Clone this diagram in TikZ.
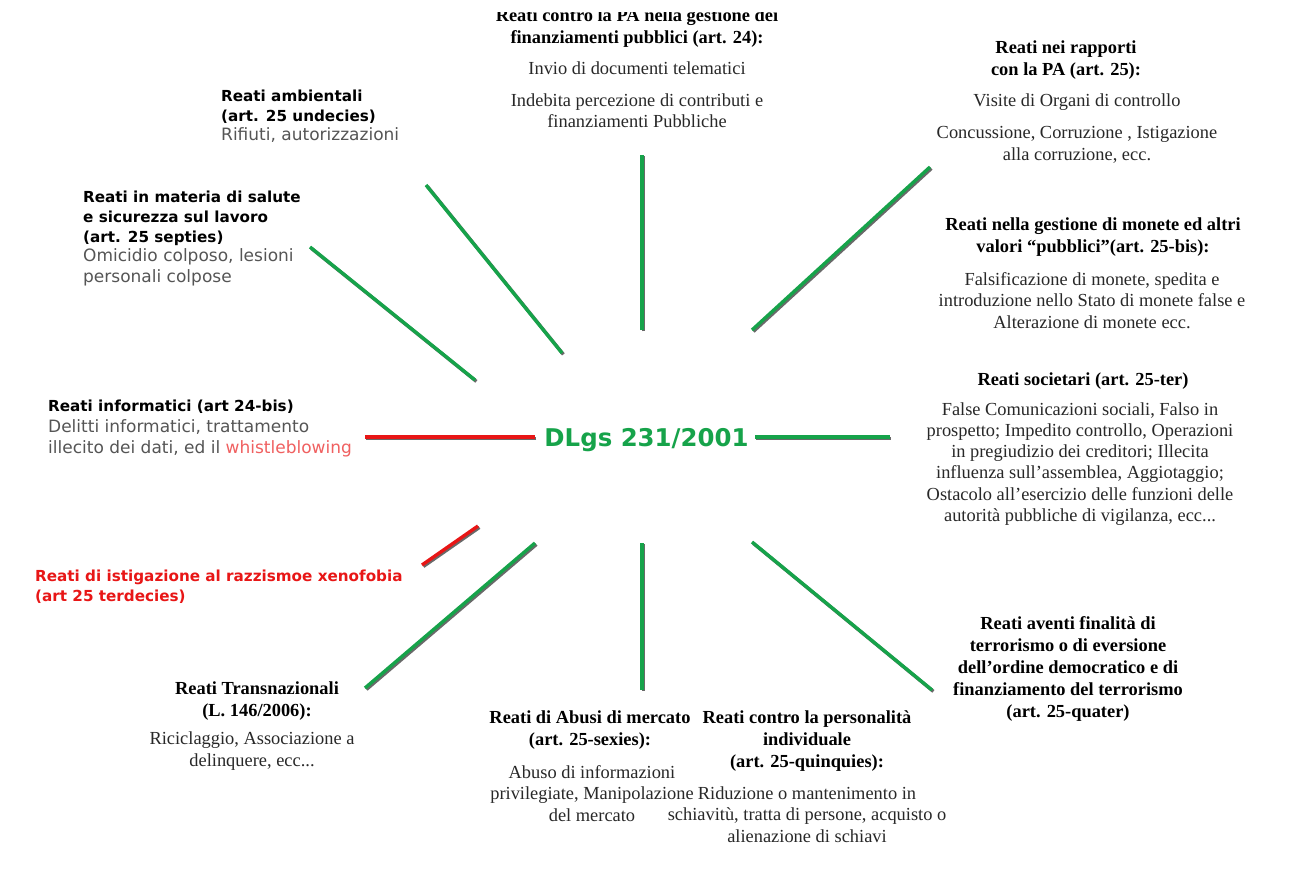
\documentclass[tikz,border=0pt]{standalone}
\usepackage{fontspec}
\setmainfont{Liberation Serif}
\newfontfamily\labelsans{DejaVu Sans}
\definecolor{LawGreen}{RGB}{22,163,74}
\definecolor{AlertRed}{RGB}{232,22,22}
\definecolor{SoftRed}{RGB}{240,96,96}
\definecolor{ShadeGray}{RGB}{105,105,105}
\definecolor{TextGray}{RGB}{40,40,40}
\definecolor{SansGray}{RGB}{85,85,85}
\tikzset{
  spoke/.style={line width=3.4pt,draw=LawGreen,
    preaction={draw=ShadeGray,line width=3.4pt,transform canvas={shift={(1.4pt,-1.4pt)}}}},
  redspoke/.style={spoke,draw=AlertRed},
  headtext/.style={font=\fontsize{18.4}{22}\selectfont\bfseries,align=center,
    inner sep=0pt,anchor=base},
  bodytext/.style={font=\fontsize{18.4}{21.3}\selectfont,text=TextGray,align=center,
    inner sep=0pt,anchor=base},
  sanshead/.style={font=\labelsans\fontsize{15.2}{19.6}\selectfont\bfseries,align=left,
    inner sep=0pt,anchor=base west},
  sansbody/.style={font=\labelsans\fontsize{17}{20.5}\selectfont,text=SansGray,align=left,
    inner sep=0pt,anchor=base west},
  hubtext/.style={font=\labelsans\fontsize{24.4}{28}\selectfont\bfseries,text=LawGreen,
    inner sep=0pt,anchor=base}
}
\begin{document}
\begin{tikzpicture}[x=1pt,y=-1pt]
  \useasboundingbox (0,0) rectangle (1296,868);
  \fill[white] (0,0) rectangle (1296,868);

  % hub (multi-line nodes sit on the baseline of their last line)
  \node[hubtext] (hub) at (646.5,446) {DLgs 231/2001};

  % serif labels, right and bottom
  \begin{scope}
    \clip (0,12) rectangle (1296,868); % top line is cut in the original
    \node[headtext] (pa24head) at (637,43) {Reati contro la PA nella gestione dei\\finanziamenti pubblici (art. 24):};
  \end{scope}
  \node[bodytext] (pa24body) at (637,127.5) {Invio di documenti telematici\\[10pt]Indebita percezione di contributi e\\finanziamenti Pubbliche};
  \node[headtext] (pa25head) at (1066,75) {Reati nei rapporti\\con la PA (art. 25):};
  \node[bodytext] (pa25body) at (1077,160) {Visite di Organi di controllo\\[11pt]Concussione, Corruzione , Istigazione\\alla corruzione, ecc.};
  \node[headtext] (bishead) at (1093,252) {Reati nella gestione di monete ed altri\\valori “pubblici”(art. 25-bis):};
  \node[bodytext] (bisbody) at (1092,328) {Falsificazione di monete, spedita e\\introduzione nello Stato di monete false e\\Alterazione di monete ecc.};
  \node[headtext] (terhead) at (1083,385) {Reati societari (art. 25-ter)};
  \node[bodytext] (terbody) at (1080,521.5) {False Comunicazioni sociali, Falso in\\prospetto; Impedito controllo, Operazioni\\in pregiudizio dei creditori; Illecita\\influenza sull’assemblea, Aggiotaggio;\\Ostacolo all’esercizio delle funzioni delle\\autorità pubbliche di vigilanza, ecc...};
  \node[headtext] (quaterhead) at (1068,717) {Reati aventi finalità di\\terrorismo o di eversione\\dell’ordine democratico e di\\finanziamento del terrorismo\\(art. 25-quater)};
  \node[headtext] (quinqhead) at (807,767) {Reati contro la personalità\\individuale\\(art. 25-quinquies):};
  \node[bodytext] (quinqbody) at (807,842) {Riduzione o mantenimento in\\schiavitù, tratta di persone, acquisto o\\alienazione di schiavi};
  \node[headtext] (sexhead) at (590,745.5) {Reati di Abusi di mercato\\(art. 25-sexies):};
  \node[bodytext] (sexbody) at (592,821) {Abuso di informazioni\\privilegiate, Manipolazione\\del mercato};
  \node[headtext] (transhead) at (257,716) {Reati Transnazionali\\(L. 146/2006):};
  \node[bodytext] (transbody) at (252,766) {Riciclaggio, Associazione a\\delinquere, ecc...};

  % sans labels, left side
  \node[sanshead] (undhead) at (221,121) {Reati ambientali\\(art. 25 undecies)};
  \node[sansbody] (undbody) at (221,140) {Rifiuti, autorizzazioni};
  \node[sanshead] (septhead) at (83,242) {Reati in materia di salute\\e sicurezza sul lavoro\\(art. 25 septies)};
  \node[sansbody] (septbody) at (83,282) {Omicidio colposo, lesioni\\personali colpose};
  \node[sanshead] (infhead) at (48,411) {Reati informatici (art 24-bis)};
  \node[sansbody] (infbody) at (48,453) {Delitti informatici, trattamento\\illecito dei dati, ed il \textcolor{SoftRed}{whistleblowing}};
  \node[sanshead,text=AlertRed] (terdhead) at (35,601) {Reati di istigazione al razzismoe xenofobia\\(art 25 terdecies)};

  % spoke ends
  \coordinate (pa24in) at (642,330);   \coordinate (pa24out) at (642,155);
  \coordinate (pa25in) at (752,330);   \coordinate (pa25out) at (930,167);
  \coordinate (terin) at (755,437);    \coordinate (terout) at (890,437);
  \coordinate (quaterin) at (752,542); \coordinate (quaterout) at (932,690);
  \coordinate (sexin) at (642,543);    \coordinate (sexout) at (642,690);
  \coordinate (transin) at (535,543);  \coordinate (transout) at (365,688);
  \coordinate (terdin) at (478,526);   \coordinate (terdout) at (422,565);
  \coordinate (infin) at (535,437);    \coordinate (infout) at (365,437);
  \coordinate (septin) at (475,380);   \coordinate (septout) at (310,247);
  \coordinate (undin) at (562,353);    \coordinate (undout) at (426,185);

  \draw[spoke] (pa24in) -- (pa24out);
  \draw[spoke] (pa25in) -- (pa25out);
  \draw[spoke] (terin) -- (terout);
  \draw[spoke] (quaterin) -- (quaterout);
  \draw[spoke] (sexin) -- (sexout);
  \draw[spoke] (transin) -- (transout);
  \draw[redspoke] (terdin) -- (terdout);
  \draw[redspoke] (infin) -- (infout);
  \draw[spoke] (septin) -- (septout);
  \draw[spoke] (undin) -- (undout);
\end{tikzpicture}
\end{document}
